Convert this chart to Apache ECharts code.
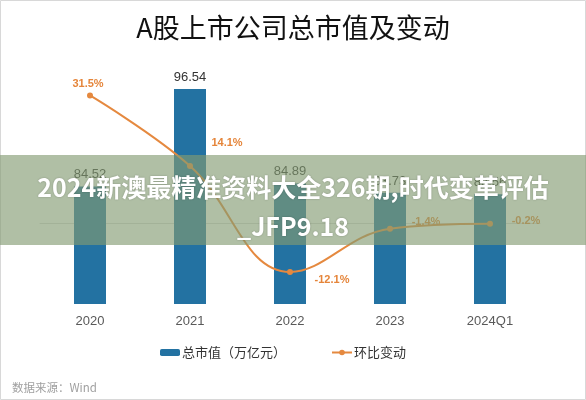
<!DOCTYPE html>
<html>
<head>
<meta charset="utf-8">
<script src="https://cdn.jsdelivr.net/npm/echarts@6/dist/echarts.min.js"></script>
<style>
html,body{margin:0;padding:0;background:#fff;}
#c{width:586px;height:400px;}
</style>
</head>
<body>
<div id="c"></div>
<script>
var categories = ['2020', '2021', '2022', '2023', '2024Q1'];
var marketCap = [84.52, 96.54, 84.89, 83.73, 83.56];
var changePct = [31.5, 14.1, -12.1, -1.4, -0.2];
var changeLabels = ['31.5%', '14.1%', '-12.1%', '-1.4%', '-0.2%'];
var labelOffsets = [[-2, -11], [37, -23], [42, 8], [36, -7], [36, -3]];

var chart = echarts.init(document.getElementById('c'), null, {renderer: 'canvas'});
var cjk = '"Noto Sans CJK SC", "Noto Sans", sans-serif';
var latin = '"Liberation Sans", Arial, sans-serif';

var lineData = changePct.map(function (v, i) {
  return {
    value: v,
    label: {
      show: true,
      position: 'inside',
      offset: labelOffsets[i],
      formatter: changeLabels[i],
      color: '#e5853a',
      fontSize: 11,
      fontWeight: 'bold',
      fontFamily: latin
    }
  };
});

chart.setOption({
  backgroundColor: '#fff',
  animation: false,
  title: {
    text: 'A股上市公司总市值及变动',
    left: 'center',
    top: 9,
    textStyle: {fontSize: 27, fontWeight: 'normal', color: '#111', fontFamily: cjk}
  },
  grid: {left: 40, right: 46, top: 61, bottom: 96},
  legend: {
    bottom: 36,
    left: 155,
    itemGap: 45,
    itemWidth: 20,
    itemHeight: 7,
    textStyle: {fontSize: 13, color: '#333', fontFamily: cjk, padding: [0, 0, 0, -3]},
    data: ['总市值（万亿元）', '环比变动']
  },
  xAxis: {
    type: 'category',
    data: categories,
    axisTick: {show: false},
    axisLine: {lineStyle: {color: '#dcdcdc'}},
    axisLabel: {color: '#595959', fontSize: 13, margin: 11, fontFamily: latin}
  },
  yAxis: [
    {type: 'value', min: 70, max: 100, show: false},
    {type: 'value', min: -20, max: 40, show: false}
  ],
  series: [
    {
      name: '总市值（万亿元）',
      type: 'bar',
      data: marketCap,
      barWidth: 32,
      itemStyle: {color: '#2372a2'},
      label: {show: true, position: 'top', distance: 5, color: '#333', fontSize: 13, fontFamily: latin}
    },
    {
      name: '环比变动',
      type: 'line',
      yAxisIndex: 1,
      data: lineData,
      smooth: 0.4,
      symbol: 'circle',
      symbolSize: 6,
      lineStyle: {color: '#e5893f', width: 2},
      itemStyle: {color: '#e5893f'}
    }
  ],
  graphic: [
    {
      type: 'text',
      left: 12,
      top: 382,
      style: {text: '数据来源：Wind', fill: '#a0a0a0', fontSize: 11.5, fontFamily: cjk}
    },
    {
      type: 'rect',
      z: 100,
      shape: {x: 0.5, y: 0.5, width: 585, height: 399},
      style: {fill: 'none', stroke: '#d8d8d8', lineWidth: 1}
    },
    {
      type: 'rect',
      z: 101,
      shape: {x: 0, y: 155, width: 586, height: 90},
      style: {fill: 'rgba(132,155,114,0.64)'}
    },
    {
      type: 'text',
      z: 102,
      x: 293,
      y: 187,
      style: {
        text: '2024新澳最精准资料大全326期,时代变革评估',
        fill: '#fff', fontSize: 25, fontWeight: 'bold', fontFamily: cjk,
        align: 'center', verticalAlign: 'middle',
        textShadowColor: 'rgba(0,0,0,0.25)', textShadowBlur: 2
      }
    },
    {
      type: 'text',
      z: 102,
      x: 293,
      y: 226,
      style: {
        text: '_JFP9.18',
        fill: '#fff', fontSize: 25, fontWeight: 'bold', fontFamily: cjk,
        align: 'center', verticalAlign: 'middle',
        textShadowColor: 'rgba(0,0,0,0.25)', textShadowBlur: 2
      }
    }
  ]
});
</script>
</body>
</html>
